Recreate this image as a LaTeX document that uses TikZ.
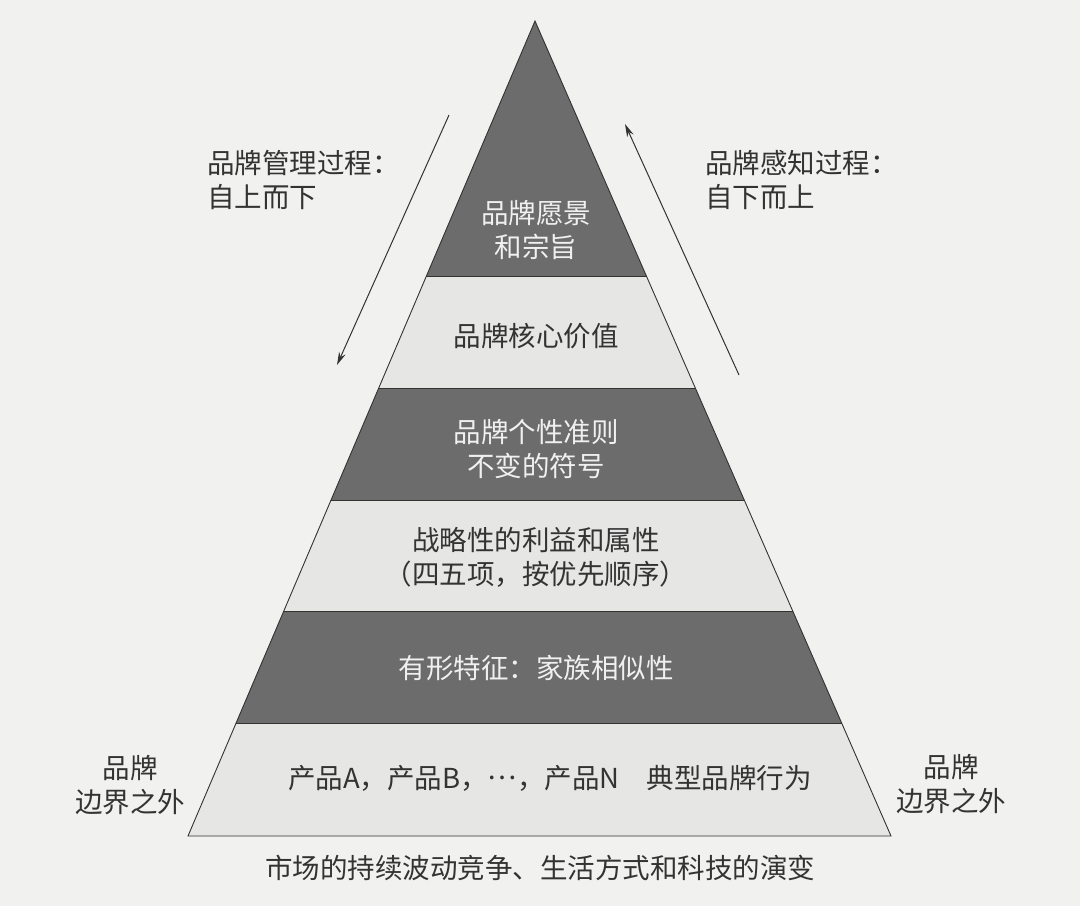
\documentclass[tikz,border=0pt]{standalone}
\usepackage{fontspec}
\newfontfamily\cjk{Noto Sans CJK SC}
\usetikzlibrary{arrows.meta}
\definecolor{paper}{HTML}{F1F1F0}
\definecolor{darkband}{HTML}{6C6C6C}
\definecolor{lightband}{HTML}{E6E6E5}
\definecolor{inktext}{HTML}{333333}
\tikzset{
  lbl/.style={font=\cjk\fontsize{27.5}{34}\selectfont, align=center, inner sep=0pt, text=inktext},
  lbldark/.style={lbl, text=white!94!black},
  bandline/.style={draw=black!80, line width=0.9pt},
  arrowline/.style={draw=black!80, line width=1pt, ->, >={Stealth[length=13pt,width=7pt]}}
}
\begin{document}
\begin{tikzpicture}[x=1pt,y=-1pt]
        % фон
        \useasboundingbox (0,0) rectangle (1080,906);
        \fill[paper] (0,0) rectangle (1080,906);
        % пирамида
        \coordinate (apex) at (535,21);
        \coordinate (bl) at (188,836);
        \coordinate (br) at (891,836);
        \fill[lightband] (apex) -- (bl) -- (br) -- cycle;
        \begin{scope}
            \clip (apex) -- (bl) -- (br) -- cycle;
            \fill[darkband] (0,0) rectangle (1080,276);
            \fill[darkband] (0,388) rectangle (1080,500);
            \fill[darkband] (0,611) rectangle (1080,723);
            \foreach \y in {276,388,500,611,723}
                \draw[bandline] (0,\y) -- (1080,\y);
        \end{scope}
        \draw[bandline, line join=miter] (apex) -- (bl) -- (br) -- cycle;

        % уровни
        \node[lbldark] (vision) at (536,230) {品牌愿景\\和宗旨};
        \node[lbl] (core) at (536,336) {品牌核心价值};
        \node[lbldark] (persona) at (536,449) {品牌个性准则\\不变的符号};
        \node[lbl] (benefit) at (536,557) {战略性的利益和属性\\（四五项，按优先顺序）};
        \node[lbldark] (tangible) at (536,668) {有形特征：家族相似性};
        \node[lbl] (product) at (550,778) {产品A，产品B，\raisebox{0.32em}{…}，产品N\quad 典型品牌行为};

        % процессы
        \node[lbl, align=left, anchor=west] (manage) at (207,180) {品牌管理过程：\\自上而下};
        \node[lbl, align=left, anchor=west] (perceive) at (705,180) {品牌感知过程：\\自下而上};
        \coordinate (mtop) at (449,115);
        \coordinate (mbot) at (337,365);
        \coordinate (pbot) at (739,375);
        \coordinate (ptop) at (625,124);
        \draw[arrowline] (mtop) -- (mbot);
        \draw[arrowline] (pbot) -- (ptop);

        % снаружи
        \node[lbl] (outleft) at (130,785) {品牌\\边界之外};
        \node[lbl] (outright) at (951,784) {品牌\\边界之外};
        \node[lbl] (market) at (540,868) {市场的持续波动竞争、生活方式和科技的演变};
\end{tikzpicture}
\end{document}
